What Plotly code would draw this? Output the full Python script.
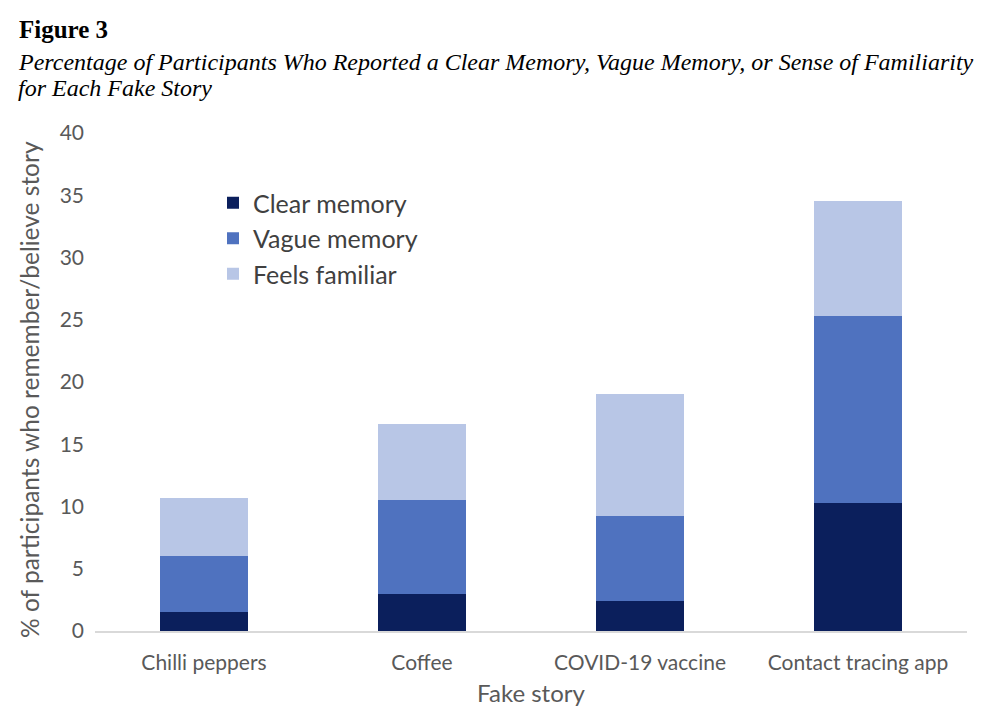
import plotly.graph_objects as go

categories = ["Chilli peppers", "Coffee", "COVID-19 vaccine", "Contact tracing app"]
clear_memory = [1.5, 3.0, 2.4, 10.3]
vague_memory = [4.5, 7.5, 6.8, 15.0]
feels_familiar = [4.7, 6.1, 9.8, 9.2]
y_ticks = [0, 5, 10, 15, 20, 25, 30, 35, 40]

colors = {"Clear memory": "#0b1f5c", "Vague memory": "#4f72bf", "Feels familiar": "#b8c6e6"}

OFF = 8  # page body margin
W, H = 1000, 727
L, R, T, B = 95 - OFF, 41, 133 - OFF, 727 - (631 - OFF)
pw, ph = W - L - R, H - T - B

def px(x):
    return (x - OFF - L) / pw

def py(y):
    return (H - B - (y - OFF)) / ph

FONT = "Lato, Open Sans, sans-serif"
fig = go.Figure()
for name, vals in [("Clear memory", clear_memory), ("Vague memory", vague_memory), ("Feels familiar", feels_familiar)]:
    fig.add_trace(go.Bar(x=categories, y=vals, name=name, marker=dict(color=colors[name], line=dict(width=0)), width=0.4))

axis_font = dict(family=FONT, size=21, color="#595959")
fig.update_layout(
    barmode="stack",
    width=W, height=H,
    margin=dict(l=L, r=R, t=T, b=B),
    plot_bgcolor="white", paper_bgcolor="white",
    showlegend=True,
    legend=dict(x=px(213), y=py(180), xanchor="left", yanchor="top", bgcolor="rgba(0,0,0,0)",
                font=dict(family=FONT, size=25, color="#404040"),
                traceorder="normal", itemsizing="constant"),
    xaxis=dict(showgrid=False, showline=True, linecolor="#d9d9d9", linewidth=1.5, ticks="",
               tickfont=axis_font, ticklabelstandoff=12, automargin=False,
               title=dict(text="Fake story", font=dict(family=FONT, size=24, color="#595959"), standoff=12)),
    yaxis=dict(range=[0, 40], tickvals=y_ticks, showgrid=False, showline=False, zeroline=False, ticks="",
               tickfont=axis_font, ticklabelstandoff=10, automargin=False),
)

fig.add_annotation(xref="paper", yref="paper", x=px(29), y=py(390), xanchor="center", yanchor="middle",
                   text="% of participants who remember/believe story", textangle=-90, showarrow=False,
                   font=dict(family=FONT, size=24.5, color="#595959"))

TFONT = "Liberation Serif, Times New Roman, serif"
fig.add_annotation(xref="paper", yref="paper", x=px(17), y=py(29), xanchor="left", yanchor="middle",
                   text="<b>Figure 3</b>", showarrow=False,
                   font=dict(family=TFONT, size=25, color="black"))
fig.add_annotation(xref="paper", yref="paper", x=px(16), y=py(62), xanchor="left", yanchor="middle",
                   text="<i>Percentage of Participants Who Reported a Clear Memory, Vague Memory, or Sense of Familiarity</i>",
                   showarrow=False,
                   font=dict(family=TFONT, size=24, color="black"))
fig.add_annotation(xref="paper", yref="paper", x=px(16), y=py(88), xanchor="left", yanchor="middle",
                   text="<i>for Each Fake Story</i>", showarrow=False,
                   font=dict(family=TFONT, size=24, color="black"))

fig.write_html("out.html")
